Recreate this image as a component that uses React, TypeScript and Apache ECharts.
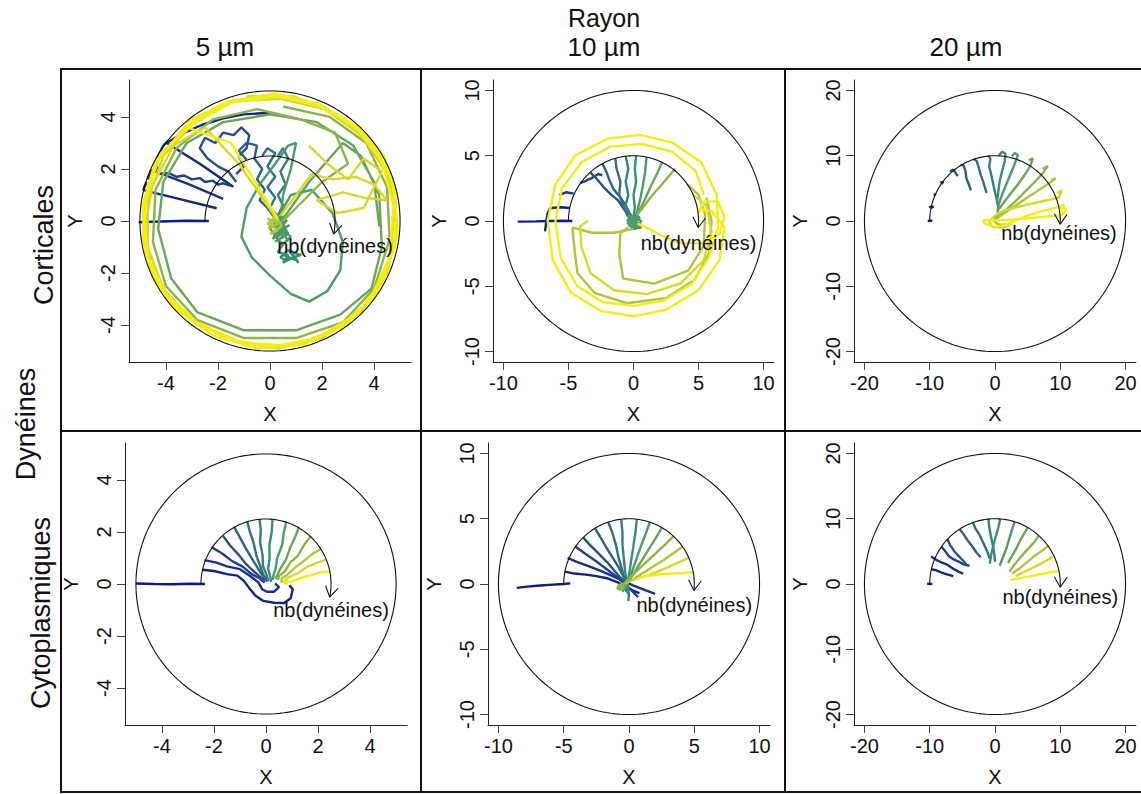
import React, { useEffect, useRef } from "react";
import * as echarts from "echarts";

type Pt = [number, number];

const SUPER_TITLE = "Rayon";
const COL_TITLES = ["5 µm", "10 µm", "20 µm"];
const ROW_SUPER = "Dynéines";
const ROW_TITLES = ["Corticales", "Cytoplasmiques"];
const ARROW_LABEL = "nb(dynéines)";
const RADII = [5, 10, 20, 5, 10, 20];
const TICKS_5 = [-4, -2, 0, 2, 4];
const TICKS_10 = [-10, -5, 0, 5, 10];
const TICKS_20 = [-20, -10, 0, 10, 20];

const PALETTE = [
  "#0d1a8a", "#12248c", "#18318d", "#1f3f8c", "#26508b", "#2c6088", "#307086", "#357f82",
  "#3b8e78", "#4c9b68", "#67a757", "#8bb548", "#b0c53a", "#d6d927", "#f4ed10",
];

// ---------- Panel 1 : corticales, 5 µm ----------
const P1_TRAJ: Pt[][] = [
  [[-2.35, 0.0], [-3.2, 0.01], [-4.2, -0.02], [-5.05, -0.05]],
  [[-2.05, 0.49], [-3.5, 0.85], [-4.87, 1.19], [-4.75, 1.5]],
  [[-1.8, 0.85], [-3.2, 1.45], [-4.55, 1.96], [-4.7, 1.6]],
  [[-1.41, 1.32], [-2.7, 2.2], [-3.97, 3.0], [-3.4, 3.35], [-2.6, 3.7], [-1.8, 3.95], [-1.0, 4.1], [-0.2, 4.15], [0.05, 4.17]],
  [[-1.5, 1.35], [-1.8, 1.45], [-2.0, 1.4], [-2.2, 1.55], [-2.5, 1.5], [-2.7, 1.65], [-3.0, 1.6], [-3.3, 1.75], [-3.6, 1.7], [-3.9, 1.85], [-4.3, 1.8], [-4.4, 2.3], [-4.1, 2.9], [-3.9, 3.1]],
  [[-1.3, 1.5], [-1.6, 1.9], [-2.0, 2.1], [-2.4, 2.4], [-2.7, 2.8], [-2.5, 3.2], [-2.1, 3.0], [-1.8, 3.4], [-1.4, 3.3], [-1.1, 3.6], [-0.8, 3.3], [-0.9, 2.8], [-1.2, 2.5], [-1.0, 2.1], [-1.3, 1.8]],
  [[-0.9, 2.35], [-1.2, 2.7], [-0.9, 3.0], [-0.5, 2.9], [-0.6, 2.4], [-0.3, 2.0], [-0.5, 1.6], [-0.2, 1.2], [-0.4, 0.8], [-0.1, 0.5], [0.2, 0.1]],
  [[-0.3, 2.5], [-0.1, 2.8], [0.2, 2.6], [-0.1, 2.1], [0.2, 1.7], [-0.1, 1.3], [0.2, 0.9], [0.0, 0.5], [0.3, 0.2]],
  [[0.3, 2.5], [0.5, 2.8], [0.7, 2.4], [0.4, 1.9], [0.6, 1.4], [0.3, 1.0], [0.5, 0.6], [0.3, 0.2]],
  [[0.5, -0.9], [0.3, -1.2], [0.7, -1.3], [0.5, -1.6], [0.9, -1.4], [1.1, -1.6], [0.8, -1.2], [1.2, -1.3], [0.6, -1.5], [0.4, -1.4], [0.7, -1.1], [1.0, -1.5], [0.5, -1.3]],
  [[0.2, 0.3], [0.5, 0.0], [0.1, -0.2], [0.6, -0.3], [0.3, -0.6], [0.0, -0.3], [0.4, 0.1], [0.7, -0.5], [0.2, -0.8], [0.5, -0.6], [0.1, 0.0], [0.6, 0.2], [0.35, -0.4], [0.75, -0.15], [0.15, -0.55], [0.5, -0.9], [0.8, -0.6], [0.3, -0.2], [0.65, 0.05], [0.1, -0.7], [0.45, -0.3], [0.7, -0.8]],
  [[0.4, 0.0], [0.5, 1.0], [0.8, 2.0], [1.0, 3.0], [0.7, 2.9], [0.2, 2.2], [-0.4, 1.4], [-0.9, 0.5], [-1.1, -0.6], [-0.7, -1.4], [0.0, -2.1], [0.8, -2.8], [1.5, -3.1], [2.2, -2.7], [2.7, -1.9], [2.8, -0.8], [2.4, 0.3], [1.6, 1.2], [0.8, 1.0], [0.4, 0.3]],
  [[0.3, -0.2], [1.5, 1.5], [2.8, 3.0], [3.5, 2.5], [4.2, 1.0], [4.3, -1.0], [3.9, -2.6], [2.7, -3.6], [1.0, -4.2], [-1.0, -4.2], [-2.8, -3.5], [-3.8, -2.2], [-4.3, -0.3], [-4.1, 1.5], [-3.2, 3.0], [-1.8, 3.8], [0.0, 4.1], [1.8, 3.8], [3.2, 2.9], [4.0, 1.5], [4.2, -0.2]],
  [[-0.1, 0.1], [0.3, -0.1], [-0.05, -0.3], [0.2, 0.25], [0.45, -0.2], [0.0, -0.5], [0.3, -0.35], [-0.1, -0.1], [0.25, 0.1]],
  [[0.5, 0.0], [2.0, 1.5], [3.0, 2.2], [2.5, 3.4], [1.2, 3.9], [-0.5, 4.3], [-2.2, 3.9], [-3.6, 2.8], [-4.4, 1.2], [-4.5, -0.8], [-4.0, -2.5], [-2.8, -3.8], [-1.0, -4.5], [1.0, -4.5], [2.8, -3.9], [4.0, -2.6], [4.6, -0.7], [4.5, 1.3], [3.7, 3.0], [2.3, 4.0], [0.5, 4.4]],
  [[0.4, 0.2], [1.0, 1.0], [1.6, 1.8], [2.4, 1.6], [3.3, 1.7], [4.0, 1.4], [4.5, 0.8], [3.6, 0.9], [2.8, 1.1], [1.8, 0.8], [2.6, 0.3], [3.6, 0.5], [4.3, 1.9], [3.6, 2.4], [3.0, 1.6], [2.2, 2.2], [1.5, 2.9]],
  [[0.3, 0.0], [-0.5, 1.2], [-1.2, 2.2], [-2.5, 3.6], [-3.7, 2.9], [-4.5, 1.4], [-4.8, -0.2], [-4.6, -1.6], [-3.9, -2.9], [-2.7, -4.0], [-1.0, -4.7], [0.8, -4.8], [2.5, -4.2], [3.9, -3.0], [4.6, -1.4], [4.8, 0.4], [4.4, 2.0], [3.5, 3.3], [2.1, 4.3], [0.4, 4.7], [-1.4, 4.6], [-2.9, 3.8], [-4.1, 2.5], [-4.7, 0.8], [-4.7, -1.0], [-4.1, -2.6], [-3.0, -3.8], [-1.5, -4.6], [0.3, -4.9], [2.0, -4.5], [3.5, -3.5], [4.5, -2.0], [4.9, -0.2], [4.6, 1.6], [3.8, 3.0], [2.6, 4.1], [0.9, 4.8], [-0.9, 4.8]],
  [[0.3, 0.1], [-1.5, 3.0], [-3.2, 3.6], [-4.4, 2.3], [-4.9, 0.6], [-4.8, -1.2], [-4.2, -2.6], [-3.2, -3.7], [-1.7, -4.5], [0.0, -4.85], [1.8, -4.5], [3.3, -3.6], [4.4, -2.2], [4.9, -0.5], [4.8, 1.3], [4.2, 2.6], [3.2, 3.7], [1.7, 4.5], [0.0, 4.85], [-1.8, 4.5], [-3.3, 3.6], [-4.4, 2.2], [-4.85, 0.4], [-4.7, -1.4], [-4.0, -2.8], [-2.8, -3.9], [-1.1, -4.7], [0.8, -4.8], [2.5, -4.2], [3.8, -3.1], [4.6, -1.4], [4.75, 0.6], [4.3, 2.3], [3.4, 3.5], [2.0, 4.4], [0.3, 4.8], [-1.5, 4.55], [-3.0, 3.7]],
  [[-3.0, 3.7], [-4.2, 2.6], [-4.75, 1.0], [-4.9, -0.6], [-4.5, -2.2], [-3.6, -3.4], [-2.2, -4.4], [-0.5, -4.9], [1.3, -4.75], [2.9, -4.0], [4.1, -2.8], [4.8, -1.0], [4.85, 0.9], [4.4, 2.5], [3.4, 3.6], [1.9, 4.5], [0.2, 4.9], [-1.6, 4.6], [-3.2, 3.8]],
];
const P1_COL = [0, 1, 2, 1, 3, 4, 5, 6, 7, 8, 9, 9, 10, 12, 11, 13, 13, 14, 14];

// ---------- Panel 2 : corticales, 10 µm ----------
const P2_TRAJ: Pt[][] = [
  [[-4.7, 0.0], [-5.5, 0.02], [-6.5, 0.0], [-7.5, -0.03], [-8.9, -0.05]],
  [[-4.9, 1.0], [-5.6, 1.05], [-6.4, 1.0], [-6.6, 0.6], [-6.7, 0.0], [-6.8, -0.8]],
  [[-4.6, 2.1], [-5.2, 2.2], [-5.7, 2.0]],
  [[-4.1, 2.9], [-3.6, 3.1], [-3.2, 3.3], [-2.7, 3.6], [-2.4, 3.5]],
  [[-3.3, 3.7], [-2.8, 3.2], [-2.3, 2.6], [-1.7, 2.0], [-1.2, 1.6], [-0.8, 1.0], [-0.5, 0.6]],
  [[-2.4, 4.4], [-2.1, 3.8], [-1.8, 3.0], [-1.5, 2.4], [-1.0, 1.8], [-0.6, 1.2], [-0.3, 0.5]],
  [[-1.4, 4.8], [-1.3, 4.0], [-1.0, 3.0], [-1.1, 2.0], [-0.8, 1.2], [-0.5, 0.5], [-0.2, 0.0]],
  [[-0.6, 4.95], [-0.4, 4.0], [-0.6, 3.0], [-0.4, 2.0], [-0.6, 1.2], [-0.3, 0.6], [0.0, 0.2]],
  [[0.2, 5.0], [0.1, 4.0], [0.2, 3.0], [0.0, 2.0], [0.1, 1.0], [0.0, 0.3]],
  [[1.0, 4.9], [0.9, 3.8], [0.7, 2.6], [0.5, 1.6], [0.3, 0.8], [0.1, 0.2]],
  [[2.2, 4.5], [1.8, 3.6], [1.3, 2.6], [0.9, 1.7], [0.5, 0.9], [0.2, 0.3]],
  [[3.2, 4.0], [2.6, 3.3], [2.0, 2.6], [1.3, 1.8], [0.7, 1.0], [0.2, 0.4]],
  [[0.0, 0.3], [0.4, 0.1], [-0.3, 0.0], [0.3, -0.4], [-0.4, -0.3], [0.2, -0.6], [0.6, 0.0], [-0.2, 0.4], [0.5, -0.3], [-0.5, 0.1], [0.1, -0.5], [0.4, 0.4], [-0.1, -0.2], [0.3, 0.2], [-0.4, 0.4], [0.6, -0.5], [-0.2, -0.6], [0.5, 0.3], [-0.5, -0.2], [0.2, 0.5], [0.0, -0.3]],
  [[0.0, -0.6], [-1.5, -0.9], [-3.2, -0.9], [-4.7, -0.5], [-4.5, -2.5], [-4.3, -4.0], [-3.0, -5.5], [-0.5, -6.3], [2.5, -5.9], [4.7, -4.5], [5.8, -2.5], [6.0, 0.0], [5.6, 1.8]],
  [[4.1, 2.85], [5.0, 2.0], [5.5, 0.5], [5.4, -1.9], [4.2, -3.8], [1.6, -4.8], [-0.8, -4.4], [-1.1, -2.5], [-1.0, -0.9], [-0.4, -0.5]],
  [[4.6, 2.0], [5.6, 1.2], [6.0, -0.8], [5.4, -3.0], [3.6, -4.8], [1.0, -5.6], [-1.5, -5.3], [-3.3, -4.0], [-4.0, -2.0], [-4.1, -0.4], [-3.5, 0.0]],
  [[5.0, 0.6], [5.4, 1.5], [6.5, 1.5], [7.0, 0.3], [6.6, -1.0], [5.3, -1.7], [3.5, -1.7], [2.5, -1.3], [1.2, -0.6], [0.3, -0.2]],
  [[4.9, 0.9], [6.0, 0.8], [7.0, -0.5], [6.6, -3.0], [5.0, -5.3], [2.5, -6.8], [0.0, -7.3], [-2.5, -6.9], [-4.8, -5.5], [-6.2, -3.0], [-6.6, 0.0], [-6.0, 2.8], [-4.5, 5.0], [-2.0, 6.3], [0.5, 6.6], [3.0, 6.0], [5.2, 4.5], [6.4, 2.0], [6.5, -0.5], [5.8, -2.8], [4.5, -4.8], [2.3, -6.1], [0.0, -6.5], [-2.4, -6.2], [-4.3, -5.0], [-5.6, -2.8], [-6.0, 0.0], [-5.5, 2.5], [-4.0, 4.5], [-1.8, 5.7], [0.7, 5.9], [3.0, 5.3], [4.8, 3.8], [5.4, 2.0]],
];
const P2_COL = [0, 1, 2, 3, 4, 5, 6, 7, 8, 9, 10, 11, 9, 12, 12, 13, 14, 14];

// ---------- Panel 3 : corticales, 20 µm ----------
const P3_TRAJ: Pt[][] = [
  [[-10.3, 0.0], [-9.6, 0.05]],
  [[-10.1, 2.1], [-9.4, 2.2], [-9.8, 2.0]],
  [[-9.4, 4.1], [-9.0, 4.0]],
  [[-8.4, 5.9], [-7.9, 6.0], [-8.2, 5.7]],
  [[-6.9, 7.6], [-6.4, 7.9], [-6.0, 7.3], [-5.7, 6.9]],
  [[-5.3, 8.6], [-4.8, 8.5], [-4.5, 7.6], [-4.4, 6.6], [-4.0, 5.6], [-3.7, 4.7]],
  [[-3.3, 9.5], [-2.8, 9.2], [-2.5, 8.2], [-2.2, 7.1], [-1.8, 6.0], [-1.5, 5.0], [-1.3, 4.3]],
  [[-1.0, 10.0], [-0.7, 9.5], [-0.9, 8.4], [-0.6, 7.2], [-0.3, 5.8], [0.0, 4.4], [0.3, 3.2], [0.5, 2.3]],
  [[0.6, 10.1], [1.1, 10.6], [1.6, 10.3], [1.5, 9.2], [1.1, 7.7], [0.7, 6.0], [0.5, 4.4], [0.3, 3.0], [0.6, 1.8]],
  [[2.6, 9.9], [3.0, 10.4], [3.5, 10.1], [3.0, 8.7], [2.3, 7.0], [1.6, 5.3], [1.0, 3.8], [0.5, 2.3], [0.4, 1.3]],
  [[5.2, 9.3], [5.8, 9.6], [5.4, 8.4], [4.5, 7.0], [3.5, 5.6], [2.4, 4.2], [1.4, 2.9], [0.6, 1.8]],
  [[7.3, 8.0], [8.1, 8.4], [7.3, 7.3], [6.0, 5.9], [4.6, 4.5], [3.2, 3.1], [1.9, 1.9], [0.7, 0.9], [-0.2, 0.4]],
  [[8.6, 6.3], [9.3, 6.5], [8.0, 5.6], [6.2, 4.4], [4.4, 3.2], [2.6, 2.0], [1.0, 0.9], [-0.2, 0.0], [0.6, -0.6], [2.2, -0.5]],
  [[9.5, 4.3], [10.2, 4.7], [9.8, 3.6], [7.6, 3.1], [5.4, 2.6], [3.3, 2.1], [1.4, 1.6], [0.1, 0.9], [-0.9, -0.1], [-0.4, -0.9], [1.2, -1.0], [2.6, -0.4]],
  [[10.0, 2.0], [10.9, 1.8], [10.3, 0.9], [8.0, 0.7], [5.5, 0.45], [3.0, 0.25], [0.5, 0.1], [-1.8, 0.15], [-1.6, -0.4], [0.0, -0.9], [1.6, -0.6], [3.2, 0.1], [5.2, 0.9], [7.2, 1.5], [9.2, 2.0], [10.6, 2.5], [10.2, 1.4]],
];
const P3_COL = [0, 1, 2, 3, 4, 5, 6, 7, 8, 9, 10, 11, 12, 13, 14];

// ---------- Panel 4 : cytoplasmiques, 5 µm ----------
const P4_TRAJ: Pt[][] = [
  [[-2.35, 0.0], [-2.9, 0.01], [-3.6, -0.01], [-4.3, 0.0], [-5.0, 0.02]],
  [[-2.45, 0.55], [-2.0, 0.5], [-1.5, 0.38], [-1.1, 0.32], [-0.85, 0.12], [-0.65, -0.15], [-0.4, -0.45], [-0.1, -0.65], [0.3, -0.72], [0.7, -0.73], [0.95, -0.55], [1.03, -0.2], [0.9, -0.05]],
  [[-2.37, 0.92], [-1.9, 0.82], [-1.5, 0.68], [-1.0, 0.57], [-0.6, 0.3], [-0.3, 0.07], [-0.15, -0.2], [0.05, -0.3], [0.3, -0.3], [0.5, -0.12], [0.35, 0.02]],
  [[-2.1, 1.42], [-1.7, 1.18], [-1.3, 0.88], [-0.9, 0.67], [-0.55, 0.38], [-0.25, 0.22], [-0.05, 0.05]],
  [[-1.65, 1.85], [-1.38, 1.48], [-1.05, 1.12], [-0.78, 0.78], [-0.45, 0.47], [-0.2, 0.25], [0.05, 0.12]],
  [[-1.23, 2.2], [-1.02, 1.82], [-0.78, 1.38], [-0.57, 1.02], [-0.33, 0.63], [-0.15, 0.35], [0.0, 0.2]],
  [[-0.72, 2.4], [-0.62, 2.0], [-0.48, 1.6], [-0.37, 1.1], [-0.23, 0.7], [-0.1, 0.35], [0.05, 0.15]],
  [[-0.25, 2.5], [-0.2, 2.1], [-0.23, 1.6], [-0.13, 1.1], [-0.12, 0.7], [0.02, 0.35], [0.1, 0.1]],
  [[0.25, 2.5], [0.22, 2.0], [0.13, 1.5], [0.14, 1.0], [0.08, 0.6], [0.17, 0.25], [0.2, 0.08]],
  [[0.78, 2.4], [0.68, 1.95], [0.62, 1.5], [0.43, 1.0], [0.37, 0.6], [0.28, 0.3], [0.25, 0.15]],
  [[1.27, 2.2], [1.12, 1.8], [0.93, 1.4], [0.77, 0.95], [0.53, 0.55], [0.42, 0.3], [0.35, 0.2]],
  [[1.72, 1.85], [1.48, 1.52], [1.22, 1.08], [0.93, 0.82], [0.72, 0.48], [0.5, 0.3], [0.45, 0.15]],
  [[2.13, 1.35], [1.8, 1.17], [1.45, 0.88], [1.1, 0.62], [0.8, 0.33], [0.6, 0.22], [0.6, 0.05]],
  [[2.33, 0.95], [2.0, 0.83], [1.6, 0.67], [1.25, 0.43], [0.9, 0.27], [0.7, 0.13], [0.75, 0.0]],
  [[2.48, 0.47], [2.1, 0.45], [1.7, 0.33], [1.3, 0.22], [0.95, 0.08], [0.75, 0.12], [0.8, -0.02]],
];
const P4_COL = [0, 1, 2, 3, 4, 5, 6, 7, 8, 9, 10, 11, 12, 13, 14];

// ---------- Panel 5 : cytoplasmiques, 10 µm ----------
const P5_TRAJ: Pt[][] = [
  [[-4.5, 0.05], [-5.0, 0.0], [-5.8, -0.05], [-6.8, -0.12], [-7.8, -0.2], [-8.6, -0.3]],
  [[-4.9, 0.95], [-4.2, 0.8], [-3.3, 0.72], [-2.5, 0.6], [-1.6, 0.42], [-0.8, 0.1], [-0.2, -0.25], [0.4, -0.55], [0.8, -0.7]],
  [[-4.7, 2.0], [-4.0, 1.7], [-3.2, 1.4], [-2.4, 1.1], [-1.6, 0.75], [-0.7, 0.35], [0.3, -0.1], [1.2, -0.45], [2.0, -0.75]],
  [[-4.1, 2.85], [-3.4, 2.35], [-2.6, 1.8], [-1.8, 1.2], [-1.0, 0.6], [-0.3, 0.0], [0.3, -0.6], [0.7, -1.0]],
  [[-3.5, 3.55], [-3.0, 3.0], [-2.4, 2.4], [-1.7, 1.7], [-1.1, 1.0], [-0.5, 0.3], [0.0, -0.3]],
  [[-2.6, 4.25], [-2.2, 3.6], [-1.8, 2.9], [-1.3, 2.1], [-0.8, 1.3], [-0.4, 0.5], [-0.1, -0.2]],
  [[-1.6, 4.75], [-1.3, 4.0], [-1.0, 3.0], [-0.8, 2.0], [-0.5, 1.0], [-0.3, 0.2], [-0.2, -0.6]],
  [[-0.6, 4.95], [-0.5, 4.0], [-0.5, 3.0], [-0.4, 2.0], [-0.3, 1.0], [-0.2, 0.2], [0.0, -0.8], [-0.05, -1.3]],
  [[0.6, 4.95], [0.5, 4.0], [0.35, 3.0], [0.2, 2.0], [0.05, 1.0], [-0.1, 0.2], [-0.1, -0.8]],
  [[1.6, 4.75], [1.3, 3.9], [0.95, 3.0], [0.6, 2.0], [0.25, 1.0], [-0.1, 0.1], [-0.5, -0.6]],
  [[2.5, 4.3], [2.1, 3.6], [1.6, 2.8], [1.1, 2.0], [0.6, 1.2], [0.1, 0.4], [-0.4, -0.3], [-0.7, -0.4]],
  [[3.4, 3.65], [2.8, 3.05], [2.1, 2.4], [1.4, 1.75], [0.7, 1.1], [0.1, 0.5], [-0.5, -0.1], [-0.9, -0.4], [-0.8, -0.1], [-0.5, 0.0], [-0.45, -0.35], [-0.8, -0.45]],
  [[4.1, 2.85], [3.4, 2.35], [2.6, 1.8], [1.8, 1.3], [1.0, 0.8], [0.4, 0.4], [-0.3, 0.0]],
  [[4.6, 2.0], [3.8, 1.65], [3.0, 1.3], [2.2, 0.95], [1.4, 0.65], [0.8, 0.45], [0.3, 0.3]],
  [[5.0, 0.9], [4.2, 0.85], [3.3, 0.8], [2.4, 0.75], [1.6, 0.65], [1.0, 0.55], [0.7, 0.4]],
];
const P5_COL = [0, 1, 2, 3, 4, 5, 6, 7, 8, 9, 10, 11, 12, 13, 14];

// ---------- Panel 6 : cytoplasmiques, 20 µm ----------
const P6_TRAJ: Pt[][] = [
  [[-10.4, 0.05], [-10.0, 0.0], [-9.6, 0.02]],
  [[-9.7, 2.25], [-9.0, 2.1], [-8.3, 1.8], [-7.5, 1.5], [-6.4, 1.2]],
  [[-9.8, 4.2], [-9.0, 3.7], [-8.2, 3.3], [-7.4, 3.0], [-6.5, 2.4], [-5.6, 1.9], [-4.9, 1.6]],
  [[-8.2, 5.7], [-7.6, 5.0], [-7.1, 4.3], [-6.4, 3.8], [-5.5, 3.4], [-4.8, 3.0], [-3.9, 2.8]],
  [[-7.3, 6.9], [-6.9, 6.0], [-6.3, 5.1], [-5.6, 4.3], [-4.9, 3.6], [-4.4, 3.0]],
  [[-5.4, 8.4], [-4.8, 7.6], [-4.2, 6.7], [-3.5, 5.8], [-2.9, 4.9], [-2.2, 4.1]],
  [[-3.4, 9.5], [-3.0, 8.5], [-2.3, 7.4], [-1.8, 6.3], [-1.2, 5.0], [-0.8, 3.9]],
  [[-1.0, 10.0], [-0.9, 8.8], [-0.6, 7.2], [-0.3, 5.8], [-0.1, 4.5], [0.0, 3.4]],
  [[0.8, 9.95], [0.5, 8.6], [0.1, 7.2], [-0.3, 5.7], [-0.6, 4.4], [-0.8, 3.1]],
  [[3.0, 9.5], [2.6, 8.3], [2.2, 7.0], [1.8, 5.6], [1.3, 4.3], [0.7, 2.8]],
  [[5.0, 8.6], [4.4, 7.6], [3.8, 6.6], [3.3, 5.5], [2.6, 4.3], [2.0, 3.2]],
  [[6.7, 7.4], [6.0, 6.4], [5.0, 5.3], [4.0, 4.2], [3.0, 3.0], [2.2, 1.9]],
  [[8.1, 5.8], [7.2, 5.1], [6.2, 4.4], [5.1, 3.5], [3.8, 2.4], [2.6, 1.6]],
  [[8.9, 4.2], [7.9, 3.6], [6.8, 3.0], [5.6, 2.4], [4.4, 1.8], [3.2, 1.2]],
  [[9.8, 2.0], [8.5, 1.8], [7.0, 1.5], [5.5, 1.2], [4.0, 0.9], [2.4, 0.6]],
];
const P6_COL = [0, 1, 2, 3, 4, 5, 6, 7, 8, 9, 10, 11, 12, 13, 14];

const TRAJ = [P1_TRAJ, P2_TRAJ, P3_TRAJ, P4_TRAJ, P5_TRAJ, P6_TRAJ];
const COLS = [P1_COL, P2_COL, P3_COL, P4_COL, P5_COL, P6_COL];

// layout (pixels) of the six plotting regions, and the data position of each arrow label
const PANELS = [
  { left: 129, top: 80, w: 282, h: 282, lim: 5.42, ticks: TICKS_5, lab: [2.5, -0.95] },
  { left: 493, top: 80, w: 281, h: 282, lim: 10.8, ticks: TICKS_10, lab: [5.0, -1.7] },
  { left: 854, top: 80, w: 282, h: 282, lim: 21.6, ticks: TICKS_20, lab: [9.8, -1.85] },
  { left: 125, top: 443, w: 282, h: 282, lim: 5.42, ticks: TICKS_5, lab: [2.5, -1.0] },
  { left: 488, top: 443, w: 282, h: 282, lim: 10.8, ticks: TICKS_10, lab: [5.0, -1.6] },
  { left: 854, top: 443, w: 282, h: 282, lim: 21.6, ticks: TICKS_20, lab: [10.0, -2.0] },
];

const FONT = "'Liberation Sans', Arial, Helvetica, sans-serif";

const txt = (text: string, x: number, y: number, size: number, rot = 0) => ({
  type: "text",
  x, y, rotation: rot,
  style: { text, fontSize: size, fontFamily: FONT, fill: "#111", align: "center", verticalAlign: "middle" },
  z: 10,
});
const ln = (x1: number, y1: number, x2: number, y2: number) => ({
  type: "line",
  shape: { x1, y1, x2, y2 },
  style: { stroke: "#111", lineWidth: 2 },
  z: 10,
});

function baseGraphic() {
  return [
    txt(SUPER_TITLE, 604, 18, 25),
    txt(COL_TITLES[0], 225, 47, 26),
    txt(COL_TITLES[1], 604, 47, 26),
    txt(COL_TITLES[2], 966, 47, 26),
    txt(ROW_SUPER, 26, 424, 27, Math.PI / 2),
    txt(ROW_TITLES[0], 44, 245, 27, Math.PI / 2),
    txt(ROW_TITLES[1], 41, 613, 27, Math.PI / 2),
    ln(60, 69, 1141, 69),
    ln(60, 792, 1141, 792),
    ln(61, 69, 61, 792),
    ln(60, 431, 1141, 431),
    ln(421, 69, 421, 792),
    ln(785, 69, 785, 792),
  ];
}

function buildOption() {
  const grid: any[] = [];
  const xAxis: any[] = [];
  const yAxis: any[] = [];
  const series: any[] = [];

  PANELS.forEach((p, i) => {
    grid.push({ left: p.left, top: p.top, width: p.w, height: p.h, containLabel: false });
    const common = (isY: boolean) => ({
      type: "value",
      gridIndex: i,
      min: -p.lim,
      max: p.lim,
      splitLine: { show: false },
      axisLine: { show: true, onZero: false, lineStyle: { color: "#222", width: 1 } },
      axisTick: { show: true, length: 8, customValues: p.ticks, lineStyle: { color: "#444", width: 1 } },
      axisLabel: {
        show: true,
        customValues: p.ticks,
        fontSize: 20,
        fontFamily: FONT,
        color: "#111",
        margin: 11,
        rotate: isY ? 90 : 0,
      },
      name: isY ? "Y" : "X",
      nameLocation: "middle",
      nameGap: isY ? 44 : 42,
      nameTextStyle: { fontSize: 20, fontFamily: FONT, color: "#111" },
    });
    xAxis.push({ ...common(false), position: "bottom" });
    yAxis.push({ ...common(true), position: "left" });

    const ppu = p.w / (2 * p.lim);
    TRAJ[i].forEach((t, k) => {
      series.push({
        type: "line",
        xAxisIndex: i,
        yAxisIndex: i,
        data: t,
        symbol: "none",
        showSymbol: false,
        silent: true,
        lineStyle: { color: PALETTE[COLS[i][k]], width: 2.4 },
        z: 2,
      });
    });

    // reference circle of the cell
    const R = RADII[i];
    const circ: Pt[] = [];
    for (let a = 0; a <= 360; a += 2) {
      circ.push([R * Math.cos((a * Math.PI) / 180), R * Math.sin((a * Math.PI) / 180)]);
    }
    series.push({
      type: "line", xAxisIndex: i, yAxisIndex: i, data: circ, symbol: "none", silent: true,
      lineStyle: { color: "#111", width: 1.1 }, z: 3,
    });

    // half arc with arrow
    const r = R / 2;
    const thEnd = Math.asin(-0.5 / r);
    const arc: Pt[] = [];
    const steps = 90;
    for (let s = 0; s <= steps; s++) {
      const th = Math.PI + (thEnd - Math.PI) * (s / steps);
      arc.push([r * Math.cos(th), r * Math.sin(th)]);
    }
    series.push({
      type: "line", xAxisIndex: i, yAxisIndex: i, data: arc, symbol: "none", silent: true,
      lineStyle: { color: "#111", width: 1.1 }, z: 4,
    });
    const tip: Pt = [r * Math.cos(thEnd), r * Math.sin(thEnd)];
    const dx = Math.sin(thEnd), dy = -Math.cos(thEnd);
    const L = 12 / ppu;
    const ang = (32 * Math.PI) / 180;
    const arm = (sgn: number): Pt => {
      const c = Math.cos(sgn * ang), s = Math.sin(sgn * ang);
      const rx = dx * c - dy * s, ry = dx * s + dy * c;
      return [tip[0] - L * rx, tip[1] - L * ry];
    };
    series.push({
      type: "line", xAxisIndex: i, yAxisIndex: i, data: [arm(1), tip, arm(-1)], symbol: "none", silent: true,
      lineStyle: { color: "#111", width: 1.1 }, z: 4,
    });
  });

  return {
    animation: false,
    backgroundColor: "#ffffff",
    grid,
    xAxis,
    yAxis,
    series,
    graphic: baseGraphic(),
  };
}

export default function App() {
  const ref = useRef<HTMLDivElement>(null);
  useEffect(() => {
    if (!ref.current) return;
    const chart = echarts.init(ref.current, undefined, { renderer: "svg" });
    chart.setOption(buildOption() as any);
    // arrow labels placed through each panel's own scales
    const labels = PANELS.map((p, i) => {
      const px = chart.convertToPixel({ gridIndex: i } as any, p.lab) as number[];
      return txt(ARROW_LABEL, px[0], px[1], 20);
    });
    chart.setOption({ graphic: [...baseGraphic(), ...labels] } as any, { replaceMerge: ["graphic"] } as any);
    return () => chart.dispose();
  }, []);
  return (
    <div
      ref={ref}
      style={{ position: "absolute", left: 0, top: 0, width: 1141, height: 794 }}
    />
  );
}
